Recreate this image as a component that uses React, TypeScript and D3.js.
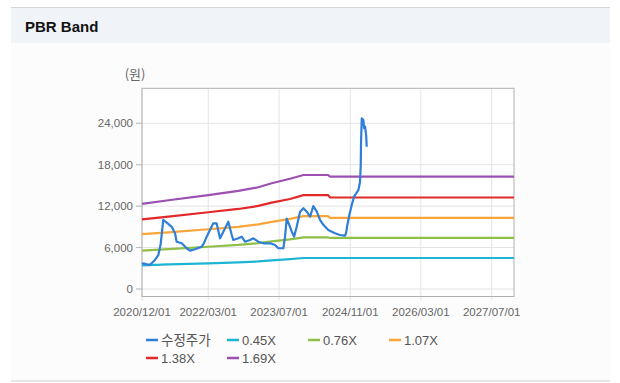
import React from "react";
import * as d3 from "d3";

const priceDates = [
  "2020-12-01","2020-12-10","2020-12-28","2021-01-25","2021-02-28","2021-03-23","2021-04-09","2021-04-26",
  "2021-05-20","2021-06-23","2021-07-16","2021-07-27","2021-08-31","2021-10-04","2021-10-27","2021-11-30",
  "2022-01-15","2022-01-30","2022-02-15","2022-03-02","2022-03-13","2022-04-05","2022-04-28","2022-05-21",
  "2022-06-13","2022-07-17","2022-08-10","2022-08-20","2022-09-24","2022-10-17","2022-11-09","2022-12-13",
  "2023-01-05","2023-02-08","2023-03-15","2023-04-30","2023-06-03","2023-06-26","2023-07-30","2023-08-11",
  "2023-08-22","2023-09-09","2023-09-26","2023-10-12","2023-10-30","2023-11-22","2023-12-15","2024-01-07",
  "2024-01-30","2024-02-21","2024-03-16","2024-04-07","2024-04-30","2024-06-03","2024-07-19","2024-08-23",
  "2024-09-26","2024-10-03","2024-10-12","2024-10-26","2024-11-11","2024-11-27","2024-12-27","2025-01-07",
  "2025-01-12","2025-01-14","2025-01-19","2025-01-30","2025-02-04","2025-02-11","2025-02-18","2025-02-22",
];
const priceValues = [
  3600,3700,3600,3500,4200,4900,6600,10000,
  9600,9000,8070,6850,6620,5900,5550,5750,
  6130,6600,7400,8070,8550,9520,9500,7340,
  8300,9750,7820,7100,7340,7580,6850,7100,
  7340,6850,6620,6620,6370,5900,5900,7580,
  10200,9270,8300,7580,9020,11200,11690,11200,
  10470,12000,11200,10000,9300,8550,8070,7820,
  7720,8070,9270,10720,12170,13370,14340,15540,
  17960,21340,24720,24480,23300,23500,22300,20600,
];

const bandDates = [
  "2020-12-01","2021-06-01","2022-03-01","2022-09-24","2023-02-08","2023-05-11",
  "2023-09-14","2023-12-15","2024-06-01","2024-06-15","2027-12-01",
];
const band045 = [3420, 3560, 3720, 3850, 3990, 4150, 4330, 4490, 4490, 4490, 4490];
const band076 = [5550, 5780, 6120, 6380, 6630, 6890, 7180, 7470, 7470, 7390, 7390];
const band107 = [7950, 8200, 8650, 9000, 9350, 9720, 10150, 10560, 10560, 10290, 10290];
const band138 = [10070, 10490, 11110, 11590, 12030, 12500, 13040, 13600, 13600, 13250, 13250];
const band169 = [12340, 12850, 13600, 14200, 14740, 15310, 15970, 16510, 16510, 16270, 16270];

const seriesNames = ["수정주가", "0.45X", "0.76X", "1.07X", "1.38X", "1.69X"];
const seriesColors = ["#2f7ed8", "#1db6d2", "#8fbf47", "#f9a53a", "#e2282a", "#9b50b2"];

const yTicks = [0, 6000, 12000, 18000, 24000];
const xTickLabels = ["2020/12/01", "2022/03/01", "2023/07/01", "2024/11/01", "2026/03/01", "2027/07/01"];

const parse = d3.timeParse("%Y-%m-%d");
const parseTick = d3.timeParse("%Y/%m/%d");

export default function App() {
  const left = 142, right = 514, top = 88.3, bottom = 296.5;
  const x = d3.scaleTime().domain([parse("2020-12-01")!, parse("2027-12-01")!]).range([left, right]);
  const y = d3.scaleLinear().domain([-1090, 29070]).range([bottom, top]);
  const line = d3.line<[Date, number]>().x((d) => x(d[0])).y((d) => y(d[1]));

  const bands = [band045, band076, band107, band138, band169];
  const bandPaths = bands.map((vals) => line(bandDates.map((d, i) => [parse(d)!, vals[i]] as [Date, number])) || "");
  const pricePath = line(priceDates.map((d, i) => [parse(d)!, priceValues[i]] as [Date, number])) || "";

  const fmt = d3.format(",");
  const legendPos = [
    [146, 340], [227, 340], [308, 340], [389, 340],
    [146, 358], [227, 358],
  ];
  const numFont = "'Liberation Sans', Arial, sans-serif";

  return (
    <svg width={620} height={383} style={{ position: "absolute", left: 0, top: 0 }} fontFamily={numFont}>
      <rect x={0} y={0} width={620} height={383} fill="#ffffff" />
      <rect x={11} y={43} width={599} height={338} fill="#fcfcfc" />
      <rect x={11} y={7.5} width={599} height={35.5} fill="#f0f3f8" />
      <line x1={11} x2={610} y1={7.5} y2={7.5} stroke="#d6d6d6" strokeWidth={1} />
      <line x1={11} x2={610} y1={381} y2={381} stroke="#cfcfcf" strokeWidth={1.2} />
      <text x={25} y={31.7} fontSize={15} fontWeight="bold" fill="#111">PBR Band</text>

      <text x={135} y={79} fontSize={13} fill="#666" textAnchor="middle" fontFamily="'Noto Sans CJK KR', sans-serif">(원)</text>

      <rect x={left} y={top} width={right - left} height={bottom - top} fill="#ffffff" />
      {xTickLabels.map((t) => {
        const xx = x(parseTick(t)!);
        return <line key={"gx" + t} x1={xx} x2={xx} y1={top} y2={bottom + 4} stroke="#e4e4e4" strokeWidth={1} />;
      })}
      {yTicks.map((t) => (
        <line key={"gy" + t} x1={left - 6} x2={right} y1={y(t)} y2={y(t)} stroke="#e4e4e4" strokeWidth={1} />
      ))}
      {yTicks.map((t) => (
        <line key={"ty" + t} x1={left - 6} x2={left} y1={y(t)} y2={y(t)} stroke="#bbb" strokeWidth={1} />
      ))}
      <rect x={left} y={top} width={right - left} height={bottom - top} fill="none" stroke="#b0b0b0" strokeWidth={1} />

      {yTicks.map((t) => (
        <text key={"ly" + t} x={133} y={y(t) + 4} fontSize={11.5} fill="#666" textAnchor="end">{fmt(t)}</text>
      ))}
      {xTickLabels.map((t) => (
        <text key={"lx" + t} x={x(parseTick(t)!)} y={316} fontSize={11.5} fill="#666" textAnchor="middle">{t}</text>
      ))}

      {bandPaths.map((p, i) => (
        <path key={"b" + i} d={p} fill="none" stroke={seriesColors[i + 1]} strokeWidth={2.2} />
      ))}
      <path d={pricePath} fill="none" stroke={seriesColors[0]} strokeWidth={2.2} strokeLinejoin="round" />

      {seriesNames.map((n, i) => {
        const [lx, ly] = legendPos[i];
        const isKo = i === 0;
        return (
          <g key={"lg" + i}>
            <line x1={lx} x2={lx + 12} y1={ly} y2={ly} stroke={seriesColors[i]} strokeWidth={2.5} />
            <text x={lx + 15} y={ly + 4.8} fontSize={isKo ? 13.5 : 13} fill="#555"
              fontFamily={isKo ? "'Noto Sans CJK KR', sans-serif" : numFont}>{n}</text>
          </g>
        );
      })}
    </svg>
  );
}
